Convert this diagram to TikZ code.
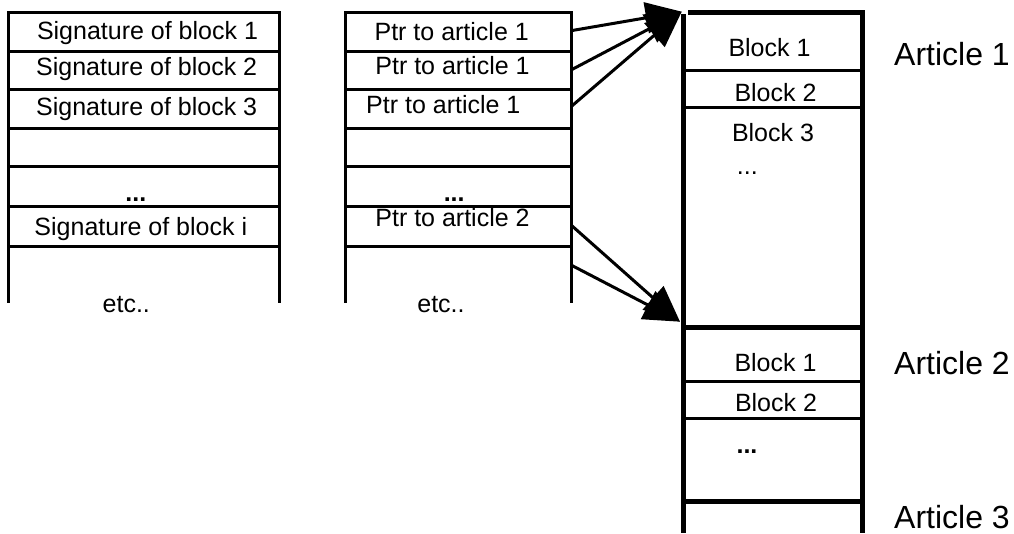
\documentclass[tikz,border=0pt]{standalone}
\usepackage{fontspec}
\setmainfont{Liberation Sans}
\usetikzlibrary{arrows.meta}

\begin{document}
\begin{tikzpicture}[x=1pt, y=-1pt, >={Triangle[length=36pt, width=31pt]},
    cell/.style={font=\fontsize{25}{30}\selectfont, inner sep=0pt, anchor=base},
    article/.style={font=\fontsize{32}{38}\selectfont, inner sep=0pt, anchor=base west},
    table line/.style={line width=3pt, line cap=rect},
    table side/.style={line width=3pt},
    heavy line/.style={line width=5pt},
    link/.style={->, line width=3pt}]

\useasboundingbox (0,0) rectangle (1014,533);

% tables
\foreach \x/\w in {8/279, 345/571} {
  \foreach \y in {12.3,51.7,89.3,128.7,166.7,206.7,246.7}
  \draw [table line] (\x,\y) -- (\w,\y);
  \draw [table side] (\x,12.3) -- (\x,303.3) (\w,12.3) -- (\w,303.3);
}

% signatures
\foreach \l/\x/\y [count=\i] in {1/147.5/39.3, 2/146.7/75, 3/146.7/115}
\node [cell] (sig-\i) at (\x,\y) {Signature of block \l};
\node [cell] (sig-dots) at (135.8,201.7) {\bfseries ...};
\node [cell] (sig-4) at (140.8,235) {Signature of block i};
\node [cell] (sig-etc) at (126.3,312) {etc..};

% pointers
\foreach \l/\x/\y [count=\i] in {1/451.7/40, 1/452.5/74, 1/443.3/113.3}
\node [cell] (ptr-\i) at (\x,\y) {Ptr to article \l};
\node [cell] (ptr-dots) at (454.2,201) {\bfseries ...};
\node [cell] (ptr-4) at (452.5,226.7) {Ptr to article 2};
\node [cell] (ptr-etc) at (441,312) {etc..};

% articles
\draw [heavy line] (688,12.5) -- (864.5,12.5);
\draw [heavy line] (683,14) -- (683,533) (862,10) -- (862,533);
\foreach \y in {327.7,501.5}
\draw [heavy line] (683,\y) -- (862,\y);
\foreach \y in {70.5,107.5,381,418.3}
\draw [table side] (683,\y) -- (862,\y);

\foreach \l/\x/\y in {1/769.5/56, 2/775.5/101, 3/773/141}
\node [cell] (blk1-\l) at (\x,\y) {Block \l};
\node [cell] (blk1-dots) at (747.3,174) {...};
\foreach \l/\x/\y in {1/775.5/371.7, 2/776/411}
\node [cell] (blk2-\l) at (\x,\y) {Block \l};
\node [cell] (blk2-dots) at (747,453) {\bfseries ...};

\foreach \y [count=\i] in {65,374,528}
\node [article] (art-\i) at (894,\y) {Article \i};

% links
\coordinate (art1-top) at (681.7,11.7);
\coordinate (art2-top) at (680,321.7);
\foreach \y [count=\i] in {30.7,70,106.7,225,265}
\coordinate (ptr-out-\i) at (571,\y);
\foreach \i in {1,2,3}
\draw [link] (ptr-out-\i) -- (art1-top);
\foreach \i in {4,5}
\draw [link] (ptr-out-\i) -- (art2-top);
\end{tikzpicture}
\end{document}
